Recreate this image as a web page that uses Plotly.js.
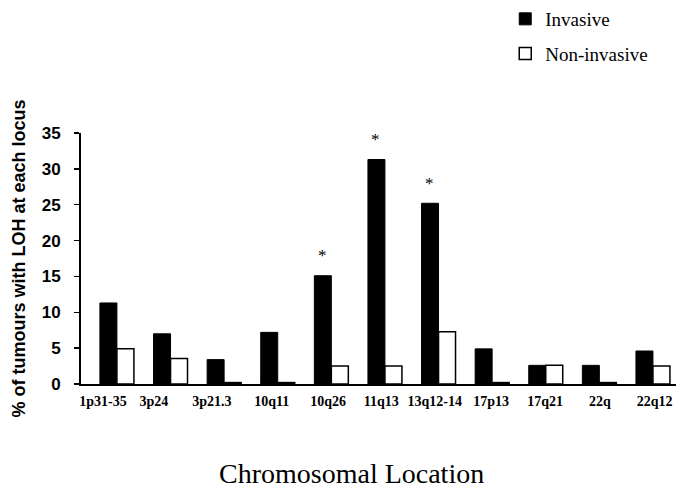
<!DOCTYPE html>
<html>
<head>
<meta charset="utf-8">
<script src="https://cdn.plot.ly/plotly-3.0.1.min.js"></script>
<style>html,body{margin:0;padding:0;background:#fff;}#chart{width:676px;height:492px;}</style>
</head>
<body>
<div id="chart"></div>
<script>
// ---- data ----
var categories = ["1p31-35","3p24","3p21.3","10q11","10q26","11q13","13q12-14","17p13","17q21","22q","22q12"];
var invasive    = [11.3, 7.0, 3.4, 7.2, 15.1, 31.3, 25.2, 4.9, 2.6, 2.6, 4.6];
var nonInvasive = [4.9, 3.55, 0.2, 0.2, 2.5, 2.5, 7.3, 0.2, 2.6, 0.2, 2.5];
var significant = ["10q26","11q13","13q12-14"];
var yTicks = [0,5,10,15,20,25,30,35];
// label placement (category units) as in the original figure
var labelPos = [-0.26, 0.69, 1.77, 2.89, 3.94, 4.93, 5.93, 6.98, 7.99, 9.01, 10.03];

var xIndex = categories.map(function(c, i){ return i; });

var traces = [
  {type:'bar', name:'Invasive', x:xIndex, y:invasive, text:categories, legendgroup:'a',
   marker:{color:'#000', line:{color:'#000', width:1}}, textposition:'none'},
  {type:'bar', name:'Non-invasive', x:xIndex, y:nonInvasive, text:categories, legendgroup:'b',
   marker:{color:'#fff', line:{color:'#000', width:1.5}}, textposition:'none'}
];

var annotations = significant.map(function(c){
  var i = categories.indexOf(c);
  return {x:xIndex[i], y:invasive[i], xref:'x', yref:'y', text:'*', showarrow:false,
          xshift:-9, yshift:20, yanchor:'middle',
          font:{family:'Liberation Serif', size:17, color:'#000000'}};
});
annotations.push({text:'Chromosomal Location', xref:'paper', yref:'paper',
  x:0.454, y:-0.356, xanchor:'center', yanchor:'middle', showarrow:false,
  font:{family:'Liberation Serif', size:28, color:'#000'}});

var layout = {
  width:676, height:492,
  margin:{l:81, r:0, t:131, b:108},
  paper_bgcolor:'#fff', plot_bgcolor:'#fff',
  barmode:'group', bargap:0.366, bargroupgap:0,
  showlegend:true,
  legend:{x:0.713, xanchor:'left', y:1.531, yanchor:'top', tracegroupgap:7,
          font:{family:'Liberation Serif', size:19, color:'#000'}, bgcolor:'rgba(0,0,0,0)'},
  xaxis:{type:'linear', range:[-0.67, 10.43], showline:true, linewidth:2, linecolor:'#000',
         tickmode:'array', tickvals:labelPos, ticktext:categories, ticklabeloverflow:'allow',
         ticks:'', showgrid:false, zeroline:false, ticklabelstandoff:3,
         tickfont:{family:'Liberation Serif', size:14, color:'#000', weight:'bold'}},
  yaxis:{range:[0,35], tickmode:'array', tickvals:yTicks, showline:true, linewidth:2, linecolor:'#000',
         ticks:'outside', ticklen:5, tickwidth:1.5, tickcolor:'#000', showgrid:false, zeroline:false,
         ticklabelstandoff:10,
         tickfont:{family:'Liberation Sans', size:17, color:'#000', weight:'bold'},
         title:{text:'% of tumours with LOH at each locus', standoff:11,
                font:{family:'Liberation Sans', size:18, color:'#000', weight:'bold'}}},
  annotations:annotations
};

Plotly.newPlot('chart', traces, layout, {staticPlot:true, displayModeBar:false});
</script>
</body>
</html>
